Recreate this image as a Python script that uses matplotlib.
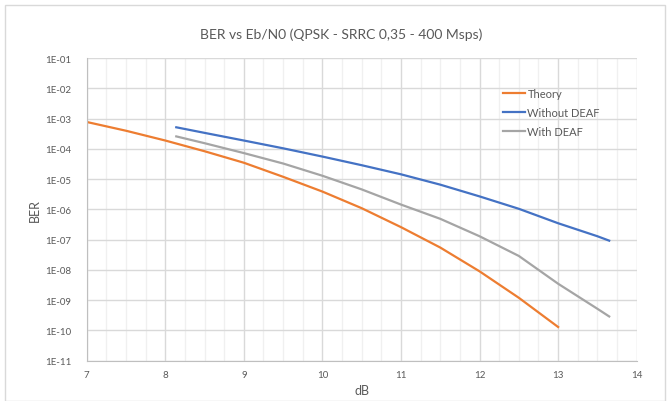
import numpy as np
import matplotlib
matplotlib.use("Agg")
import matplotlib.pyplot as plt
from matplotlib.ticker import FixedLocator, MultipleLocator, FuncFormatter
from matplotlib.patches import Rectangle

plt.rcParams['font.family'] = ['Lato', 'DejaVu Sans']

# valores
x_theory = [7.0, 7.5, 8.0, 8.5, 9.0, 9.5, 10.0, 10.5, 11.0, 11.5, 12.0, 12.5, 13.0]
ber_theory = [7.8e-4, 4.0e-4, 1.9e-4, 8.4e-5, 3.5e-5, 1.2e-5, 3.9e-6, 1.1e-6, 2.6e-7, 5.5e-8, 9.0e-9, 1.2e-9, 1.3e-10]

x_deaf = [8.14, 8.5, 9.0, 9.5, 10.0, 10.5, 11.0, 11.5, 12.0, 12.5, 13.0, 13.5, 13.65]
ber_without = [5.2e-4, 3.4e-4, 1.9e-4, 1.05e-4, 5.6e-5, 2.9e-5, 1.45e-5, 6.6e-6, 2.7e-6, 1.05e-6, 3.5e-7, 1.3e-7, 9.3e-8]
ber_with = [2.6e-4, 1.55e-4, 7.3e-5, 3.3e-5, 1.3e-5, 4.6e-6, 1.45e-6, 4.9e-7, 1.3e-7, 2.9e-8, 3.5e-9, 5.2e-10, 2.9e-10]

y_ticks = [10.0 ** -k for k in range(1, 12)]

txt = '#595959'

fig = plt.figure(figsize=(6.7, 4.02), dpi=100)
fig.patches.append(Rectangle((5 / 670, 0.0), 660 / 670, 1 - 6 / 402, transform=fig.transFigure,
                             fill=False, edgecolor='#d9d9d9', linewidth=1))
ax = fig.add_axes([86.7 / 670, 1 - 361.7 / 402, 550 / 670, 302.5 / 402])

ax.plot(x_theory, ber_theory, color='#ED7D31', lw=1.6, label='Theory')
ax.plot(x_deaf, ber_without, color='#4472C4', lw=1.6, label='Without DEAF')
ax.plot(x_deaf, ber_with, color='#A5A5A5', lw=1.6, label='With DEAF')

ax.set_yscale('log')
ax.set_xlim(7, 14)
ax.set_ylim(1e-11, 1e-1)
ax.yaxis.set_major_locator(FixedLocator(y_ticks))
ax.yaxis.set_minor_locator(FixedLocator([]))
ax.yaxis.set_major_formatter(FuncFormatter(lambda v, p: '1E-%02d' % round(-np.log10(v))))
ax.xaxis.set_major_locator(MultipleLocator(1))
ax.xaxis.set_minor_locator(MultipleLocator(0.25))

ax.grid(which='major', color='#d9d9d9', lw=1)
ax.grid(which='minor', axis='x', color='#f0f0f0', lw=1)
ax.set_axisbelow(True)

for s in ['top', 'right']:
    ax.spines[s].set_visible(False)
for s in ['left', 'bottom']:
    ax.spines[s].set_color('#bfbfbf')
ax.tick_params(which='both', length=0, colors=txt, labelsize=7)
ax.tick_params(axis='y', pad=11)
ax.tick_params(axis='x', pad=7)

ax.set_ylabel('BER', color=txt, fontsize=9, labelpad=3)
ax.set_xlabel('dB', color=txt, fontsize=9, labelpad=3)
fig.text(341.5 / 670, 1 - 35 / 402, 'BER vs Eb/N0 (QPSK - SRRC 0,35 - 400 Msps)',
         ha='center', va='center', color=txt, fontsize=10)

leg = ax.legend(loc='upper left', bbox_to_anchor=(503 / 670, 1 - 89 / 402),
                bbox_transform=fig.transFigure, frameon=False, fontsize=8,
                handlelength=2.0, handletextpad=0.2, borderpad=0, borderaxespad=0,
                labelspacing=0.7)
for t in leg.get_texts():
    t.set_color(txt)

fig.savefig('out.png', dpi=100)
